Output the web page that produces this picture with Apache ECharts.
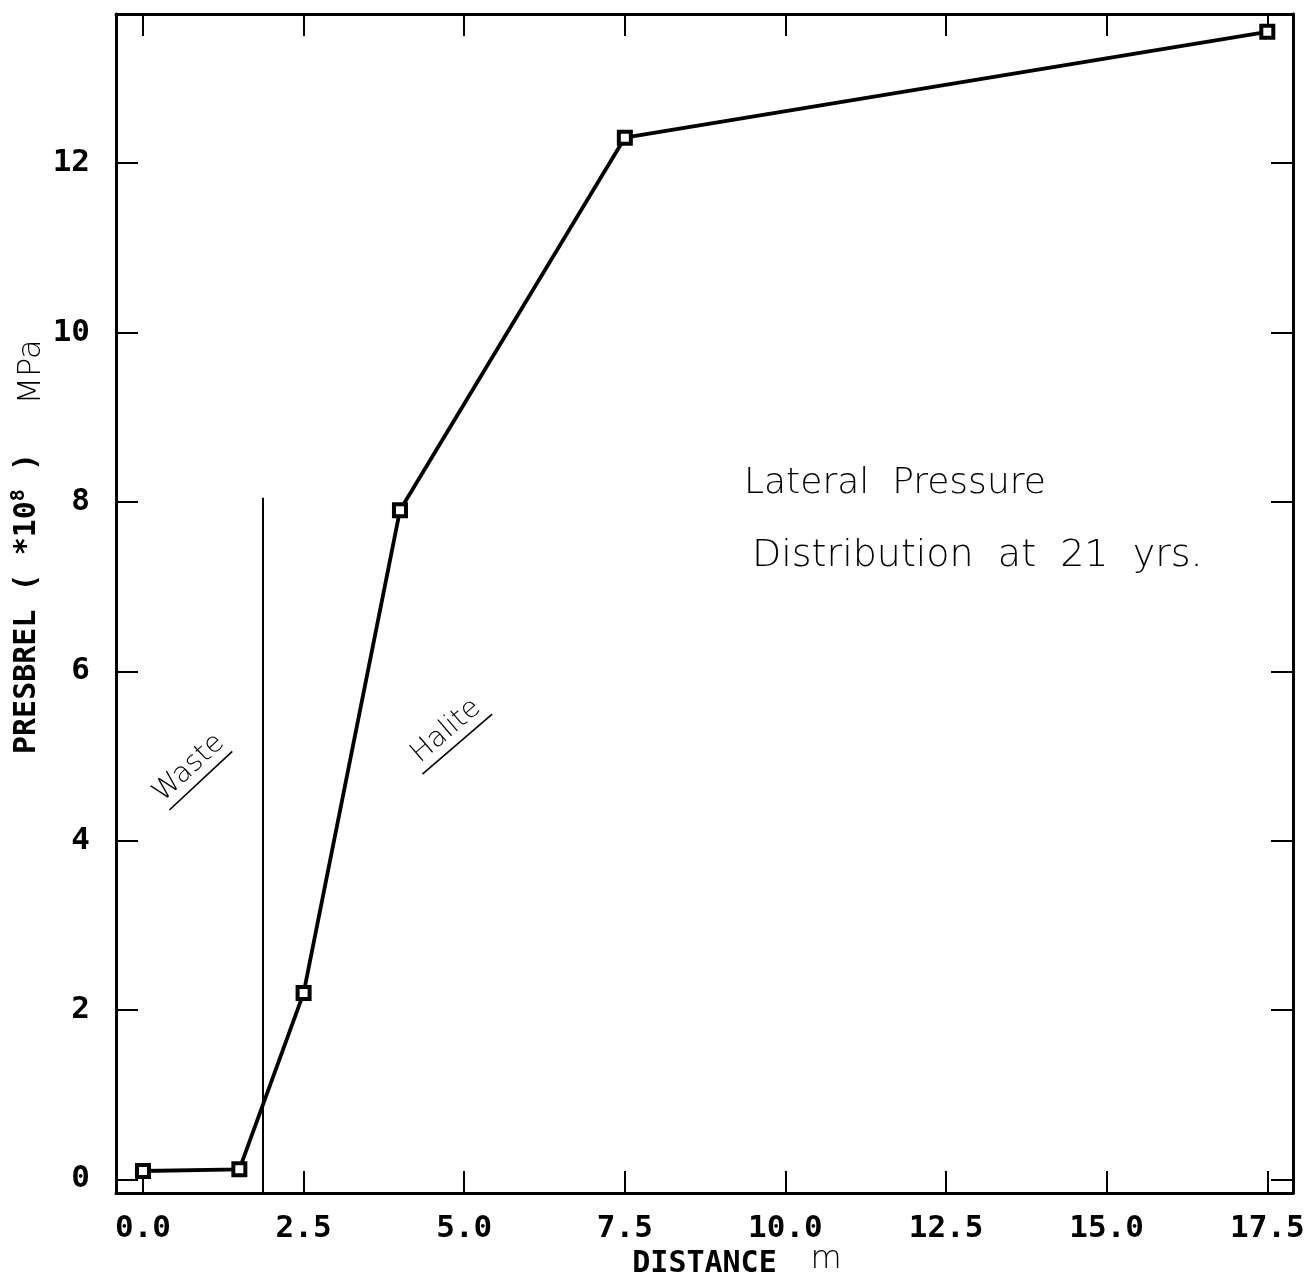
<!DOCTYPE html>
<html>
<head>
<meta charset="utf-8">
<script src="https://cdn.jsdelivr.net/npm/echarts@6/dist/echarts.min.js"></script>
<style>
  html, body { margin: 0; background: #fff; }
  #chart { width: 1304px; height: 1277px; }
</style>
</head>
<body>
<div id="chart"></div>
<script>
// lateral pressure vs distance
const distance = [0.0, 1.5, 2.5, 4.0, 7.5, 17.5];
const presbrel = [0.1, 0.12, 2.2, 7.9, 12.3, 13.55];
const xTicks = [0, 2.5, 5, 7.5, 10, 12.5, 15, 17.5];
const yTicks = [0, 2, 4, 6, 8, 10, 12];
const xRange = [-0.42, 17.9];
const yRange = [-0.16, 13.76];
// waste / halite boundary line
const boundaryX = 1.86;
const boundaryTop = 8.05;

const plotFont = "DejaVu Sans Mono";
const handFont = "DejaVu Sans";
const black = "#000";

const chart = echarts.init(document.getElementById("chart"), null, { renderer: "canvas" });

function xAxisCfg(pos, showLabel) {
  return {
    type: "value", position: pos, min: xRange[0], max: xRange[1],
    axisLine: { show: true, onZero: false, lineStyle: { color: black, width: 3 } },
    axisTick: { show: true, inside: true, length: 22, customValues: xTicks, lineStyle: { color: black, width: 2 } },
    axisLabel: {
      show: showLabel, customValues: xTicks, margin: 20,
      formatter: v => v.toFixed(1),
      color: black, fontFamily: plotFont, fontWeight: "bold", fontSize: 31
    },
    splitLine: { show: false },
    name: showLabel ? "DISTANCE" : "", nameLocation: "middle", nameGap: 54,
    nameTextStyle: { color: black, fontFamily: plotFont, fontWeight: "bold", fontSize: 30 }
  };
}

function yAxisCfg(pos, showLabel) {
  return {
    type: "value", position: pos, min: yRange[0], max: yRange[1],
    axisLine: { show: true, onZero: false, lineStyle: { color: black, width: 3 } },
    axisTick: { show: true, inside: true, length: 22, customValues: yTicks, lineStyle: { color: black, width: 2 } },
    axisLabel: {
      show: showLabel, customValues: yTicks, margin: 26,
      color: black, fontFamily: plotFont, fontWeight: "bold", fontSize: 31
    },
    splitLine: { show: false },
    name: showLabel ? "PRESBREL ( *10{sup|8} )" : "", nameLocation: "middle", nameGap: 60, nameRotate: 90,
    nameTextStyle: {
      color: black, fontFamily: plotFont, fontWeight: "bold", fontSize: 30,
      rich: { sup: { fontFamily: plotFont, fontWeight: "bold", fontSize: 20, color: black, padding: [0, 0, 16, 0] } }
    }
  };
}

function hand(text, x, y, size, rot, underline, align) {
  const children = [{
    type: "text", x: 0, y: 0,
    style: { text: text, fill: black, font: `200 ${size}px "${handFont}"`, align: align || "center", verticalAlign: "middle" }
  }];
  if (underline) {
    children.push({
      type: "line",
      shape: { x1: -underline / 2, y1: size * 0.62, x2: underline / 2, y2: size * 0.62 },
      style: { stroke: black, lineWidth: 1.6 }
    });
  }
  return { type: "group", x: x, y: y, rotation: rot, children: children };
}

chart.setOption({
  animation: false,
  backgroundColor: "#fff",
  grid: { left: 116, right: 11, top: 14, bottom: 84, containLabel: false, outerBoundsMode: "none" },
  xAxis: [xAxisCfg("bottom", true), xAxisCfg("top", false)],
  yAxis: [yAxisCfg("left", true), yAxisCfg("right", false)],
  series: [{
    type: "line",
    data: distance.map((d, i) => [d, presbrel[i]]),
    symbol: "rect", symbolSize: 12,
    lineStyle: { color: black, width: 3.8 },
    itemStyle: { color: "#fff", borderColor: black, borderWidth: 4 },
    markLine: {
      silent: true, symbol: ["none", "none"], label: { show: false },
      lineStyle: { color: black, width: 2, type: "solid" },
      data: [[{ coord: [boundaryX, yRange[0]] }, { coord: [boundaryX, boundaryTop] }]]
    }
  }],
  graphic: [
    hand("Lateral  Pressure", 744, 484, 36, 0, 0, "left"),
    hand("Distribution  at  21  yrs.", 752, 556, 38, 0, 0, "left"),
    hand("Waste", 189, 768, 28, 0.75, 86),
    hand("Halite", 446, 731, 28, 0.71, 92),
    hand("MPa", 32, 372, 32, Math.PI / 2),
    hand("m", 826, 1260, 32, 0)
  ]
});
</script>
</body>
</html>
